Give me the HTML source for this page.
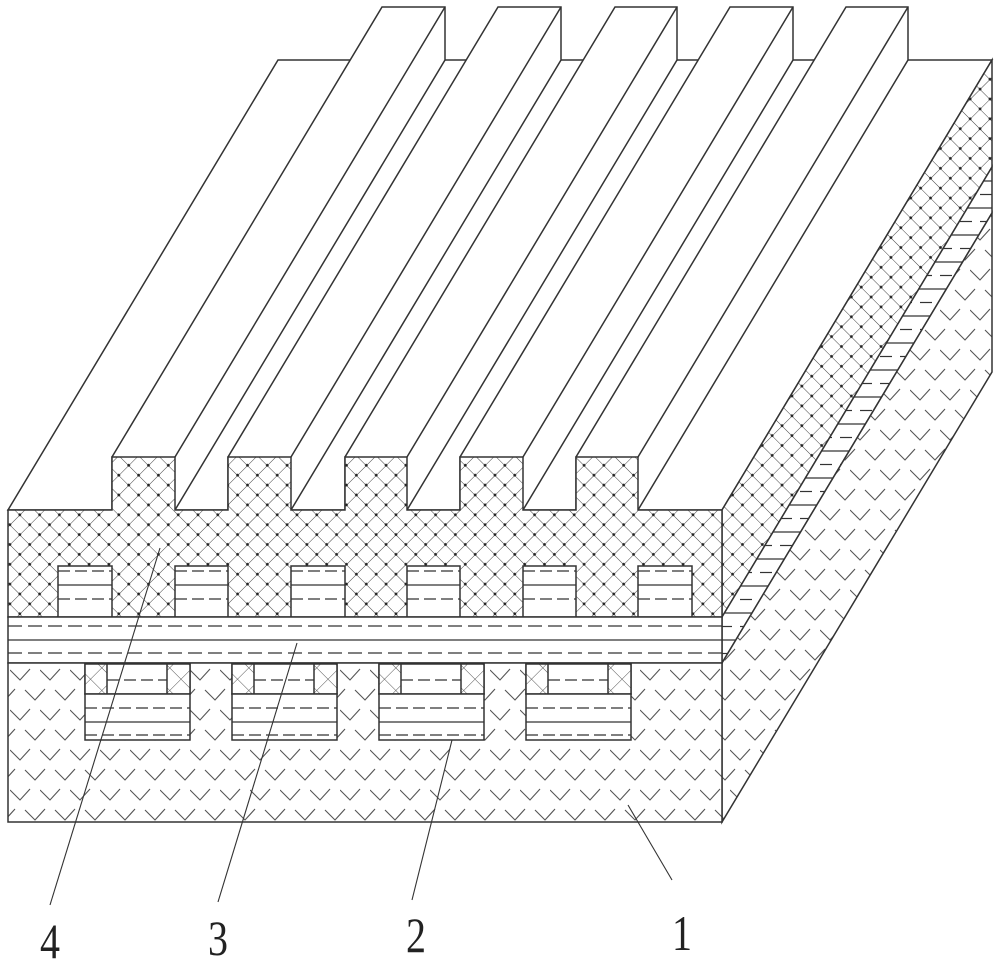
<!DOCTYPE html>
<html><head><meta charset="utf-8"><style>
html,body{margin:0;padding:0;background:#fff;}
svg{display:block;}
text{font-family:"Liberation Serif",serif;fill:#222;}
</style></head><body>
<svg width="1000" height="970" viewBox="0 0 1000 970" xmlns="http://www.w3.org/2000/svg">
<defs>
<pattern id="ch" width="14" height="14" patternUnits="userSpaceOnUse" patternTransform="rotate(45)">
<rect width="14" height="14" fill="#fff"/>
<path d="M0 0H14M0 0V14" stroke="#444" stroke-width="1"/>
<circle cx="0" cy="0" r="1.4" fill="#222"/><circle cx="14" cy="0" r="1.4" fill="#222"/><circle cx="0" cy="14" r="1.4" fill="#222"/><circle cx="14" cy="14" r="1.4" fill="#222"/>
</pattern>
<pattern id="ch2" width="16" height="16" patternUnits="userSpaceOnUse" patternTransform="rotate(45)">
<rect width="16" height="16" fill="#fff"/>
<path d="M0 0H16M0 0V16" stroke="#555" stroke-width="1"/>
</pattern>
<pattern id="vv" width="30" height="40" patternUnits="userSpaceOnUse" x="10" y="668">
<rect width="30" height="40" fill="#fff"/>
<path d="M0 2L10 12L20 1M15 22L25 32L35 21M-15 22L-5 32L5 21" stroke="#555" stroke-width="1.1" fill="none"/>
</pattern>
<pattern id="hl" width="20" height="27" patternUnits="userSpaceOnUse" y="617">
<rect width="20" height="27" fill="#fff"/>
<path d="M0 9.5H12" stroke="#333" stroke-width="1.2"/>
<path d="M0 23H20" stroke="#333" stroke-width="1.2"/>
</pattern>
</defs>
<g stroke="#333" stroke-width="1.5" fill="none" stroke-linejoin="miter">
<polygon points="8,510 722,510 992,60 278,60" fill="#fff"/>
<polygon points="722,510 992,60 992,167 722,617" fill="url(#ch)"/>
<polygon points="722,617 992,167 992,213 722,663" fill="url(#hl)"/>
<polygon points="722,663 992,213 992,372 722,822" fill="url(#vv)"/>
<g fill="#fff">
<polygon points="112,510 112,457 382,7 445,7 445,60 175,510"/>
<line x1="175" y1="457" x2="445" y2="7"/>
<polygon points="228,510 228,457 498,7 561,7 561,60 291,510"/>
<line x1="291" y1="457" x2="561" y2="7"/>
<polygon points="345,510 345,457 615,7 677,7 677,60 407,510"/>
<line x1="407" y1="457" x2="677" y2="7"/>
<polygon points="460,510 460,457 730,7 793,7 793,60 523,510"/>
<line x1="523" y1="457" x2="793" y2="7"/>
<polygon points="576,510 576,457 846,7 908,7 908,60 638,510"/>
<line x1="638" y1="457" x2="908" y2="7"/>
</g>
<polygon points="8,617 8,510 112,510 112,457 175,457 175,510 228,510 228,457 291,457 291,510 345,510 345,457 407,457 407,510 460,510 460,457 523,457 523,510 576,510 576,457 638,457 638,510 722,510 722,617" fill="url(#ch)"/>
<g fill="#fff">
<rect x="58" y="566" width="54" height="51"/>
<rect x="175" y="566" width="53" height="51"/>
<rect x="291" y="566" width="54" height="51"/>
<rect x="407" y="566" width="53" height="51"/>
<rect x="523" y="566" width="53" height="51"/>
<rect x="638" y="566" width="54" height="51"/>
</g>
<g stroke-width="1.2">
<path d="M58 571H112M175 571H228M291 571H345M407 571H460M523 571H576M638 571H692M58 599H112M175 599H228M291 599H345M407 599H460M523 599H576M638 599H692" stroke-dasharray="12 5"/>
<path d="M58 585H112M175 585H228M291 585H345M407 585H460M523 585H576M638 585H692"/>
</g>
<rect x="8" y="617" width="714" height="46" fill="#fff"/>
<path d="M8 626H722M8 653H722" stroke-dasharray="14 6" stroke-width="1.2"/>
<path d="M8 640H722" stroke-width="1.2"/>
<rect x="8" y="663" width="714" height="159" fill="url(#vv)"/>
<g id="u">
<rect x="85" y="664" width="105" height="30" fill="#fff"/>
<rect x="85" y="664" width="22" height="30" fill="url(#ch2)"/>
<rect x="167" y="664" width="23" height="30" fill="url(#ch2)"/>
<path d="M107 680H167" stroke-dasharray="12 5" stroke-width="1.2"/>
<rect x="85" y="694" width="105" height="46" fill="#fff"/>
<path d="M85 708H190M85 735H190" stroke-dasharray="12 5" stroke-width="1.2"/>
<path d="M85 722H190" stroke-width="1.2"/>
</g>
<use href="#u" x="147"/>
<use href="#u" x="294"/>
<use href="#u" x="441"/>
<g stroke-width="1.1">
<line x1="160" y1="548" x2="50" y2="905"/>
<line x1="297" y1="643" x2="218" y2="902"/>
<line x1="452" y1="740" x2="412" y2="900"/>
<line x1="628" y1="805" x2="672" y2="880"/>
</g>
</g>
<g font-size="50">
<text x="50" y="958" text-anchor="middle" transform="translate(50 0) scale(0.8 1) translate(-50 0)">4</text>
<text x="218" y="955" text-anchor="middle" transform="translate(218 0) scale(0.8 1) translate(-218 0)">3</text>
<text x="416" y="952" text-anchor="middle" transform="translate(416 0) scale(0.8 1) translate(-416 0)">2</text>
<text x="682" y="950" text-anchor="middle" transform="translate(682 0) scale(0.8 1) translate(-682 0)">1</text>
</g>
</svg>
</body></html>
